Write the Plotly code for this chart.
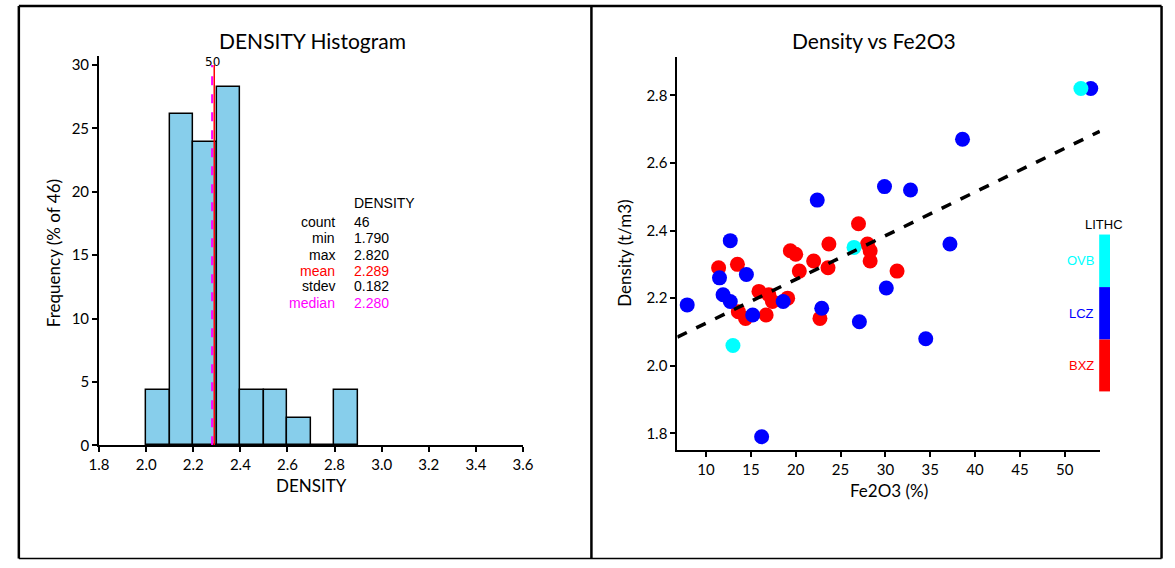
import numpy as np
import plotly.graph_objects as go

W, H = 1175, 568

# ---------------- Histogram data ----------------
bin_left = [2.0, 2.1, 2.2, 2.3, 2.4, 2.5, 2.6, 2.7, 2.8]
bin_counts = [2, 12, 11, 13, 2, 2, 1, 0, 2]
n_total = 46
mean_val = 2.289
median_val = 2.280
stat_labels = ["count", "min", "max", "mean", "stdev", "median"]
stat_values = ["46", "1.790", "2.820", "2.289", "0.182", "2.280"]
stat_colors = ["black", "black", "black", "red", "black", "magenta"]

# ---------------- Scatter data ----------------
bxz_fe = [11.4, 13.5, 13.6, 14.4, 15.9, 17.0, 17.4, 16.7, 19.1, 19.4, 20.0, 20.4,
          22.0, 23.7, 23.6, 22.7, 28.0, 28.3, 28.3, 31.3, 27.0]
bxz_den = [2.29, 2.30, 2.16, 2.14, 2.22, 2.21, 2.19, 2.15, 2.20, 2.34, 2.33, 2.28,
           2.31, 2.36, 2.29, 2.14, 2.36, 2.34, 2.31, 2.28, 2.42]
lcz_fe = [7.9, 12.7, 11.5, 14.5, 11.9, 12.7, 15.2, 18.6, 22.9, 30.1, 27.1, 34.5,
          16.2, 22.4, 29.9, 32.8, 52.9, 38.6, 37.2]
lcz_den = [2.18, 2.37, 2.26, 2.27, 2.21, 2.19, 2.15, 2.19, 2.17, 2.23, 2.13, 2.08,
           1.79, 2.49, 2.53, 2.52, 2.82, 2.67, 2.36]
ovb_fe = [13.0, 26.5, 51.8]
ovb_den = [2.06, 2.35, 2.82]

litho_names = ["OVB", "LCZ", "BXZ"]
litho_colors = ["#00FFFF", "#0000FF", "#FF0000"]

hist_x_ticks = [1.8, 2.0, 2.2, 2.4, 2.6, 2.8, 3.0, 3.2, 3.4, 3.6]
hist_y_ticks = [0, 5, 10, 15, 20, 25, 30]
sc_x_ticks = [10, 15, 20, 25, 30, 35, 40, 45, 50]
sc_y_ticks = [1.8, 2.0, 2.2, 2.4, 2.6, 2.8]


def px(x):
    return x / W


def py(y):
    return 1 - y / H


fig = go.Figure()

pct = [c / n_total * 100 for c in bin_counts]
centers = [b + 0.05 for b in bin_left]
fig.add_trace(go.Bar(x=centers, y=pct, width=0.1, marker=dict(color="#87CEEB",
                     line=dict(color="black", width=1.5)), xaxis="x", yaxis="y",
                     showlegend=False, hoverinfo="skip"))
fig.add_trace(go.Scatter(x=[median_val, median_val], y=[0, 30], mode="lines",
                         line=dict(color="magenta", width=2, dash="dash"),
                         xaxis="x", yaxis="y", showlegend=False))
fig.add_trace(go.Scatter(x=[mean_val, mean_val], y=[0, 30], mode="lines",
                         line=dict(color="red", width=1.5),
                         xaxis="x", yaxis="y", showlegend=False))

for name, fe, den, col in [("BXZ", bxz_fe, bxz_den, "#FF0000"),
                           ("LCZ", lcz_fe, lcz_den, "#0000FF"),
                           ("OVB", ovb_fe, ovb_den, "#00FFFF")]:
    fig.add_trace(go.Scatter(x=fe, y=den, mode="markers", name=name,
                             marker=dict(color=col, size=15, line=dict(width=0)),
                             xaxis="x2", yaxis="y2", showlegend=False))

all_fe = np.array(bxz_fe + lcz_fe + ovb_fe)
all_den = np.array(bxz_den + lcz_den + ovb_den)
slope, intercept = np.polyfit(all_fe, all_den, 1)
xr = np.array([6.8, 53.9])
fig.add_trace(go.Scatter(x=xr, y=intercept + slope * xr, mode="lines",
                         line=dict(color="black", width=3.5, dash="dash"),
                         xaxis="x2", yaxis="y2", showlegend=False))

axis_common = dict(showline=True, linecolor="black", linewidth=2, ticks="outside",
                   ticklen=5, tickwidth=1.5, tickcolor="black", showgrid=False,
                   zeroline=False, tickfont=dict(family="Lato", size=15, color="black"))

fig.update_layout(
    width=W, height=H, margin=dict(l=0, r=0, t=0, b=0),
    paper_bgcolor="white", plot_bgcolor="white",
    bargap=0,
    xaxis=dict(domain=[px(90.7), px(522.3)], range=[1.8, 3.6], tickvals=hist_x_ticks,
               ticktext=[f"{v:.1f}" for v in hist_x_ticks], anchor="y", **axis_common),
    yaxis=dict(domain=[py(451.5), py(56)], range=[0, 30.7], tickvals=hist_y_ticks,
               anchor="x", **axis_common),
    xaxis2=dict(domain=[px(679.5), px(1110)], range=[6.8, 53.95], tickvals=sc_x_ticks,
                anchor="y2", **axis_common),
    yaxis2=dict(domain=[py(456.5), py(57)], range=[1.75, 2.913], tickvals=sc_y_ticks,
                ticktext=[f"{v:.1f}" for v in sc_y_ticks], anchor="x2", **axis_common),
)

ann = []
tfont = dict(family="Lato", size=21, color="black")
afont = dict(family="Lato", size=17, color="black")
ann.append(dict(x=px(308), y=py(40), text="DENSITY Histogram", font=tfont))
ann.append(dict(x=px(880), y=py(40), text="Density vs Fe2O3", font=tfont))
ann.append(dict(x=px(307), y=py(492), text="DENSITY", font=afont))
ann.append(dict(x=px(895), y=py(497), text="Fe2O3 (%)", font=afont))
ann.append(dict(x=px(45), y=py(256), text="Frequency (% of 46)", font=afont, textangle=-90))
ann.append(dict(x=px(626), y=py(256), text="Density (t/m3)", font=afont, textangle=-90))
ann.append(dict(x=px(206), y=py(62), text="50", font=dict(family="DejaVu Sans", size=12, color="black")))

sfont = "Liberation Sans"
ann.append(dict(x=px(348), y=py(205), text="DENSITY", xanchor="left",
                font=dict(family=sfont, size=14, color="black")))
row_y = [224.3, 241, 257.7, 274, 290, 306.7]
for lab, val, col, yy in zip(stat_labels, stat_values, stat_colors, row_y):
    ann.append(dict(x=px(333), y=py(yy), text=lab, xanchor="right",
                    font=dict(family=sfont, size=14, color=col)))
    ann.append(dict(x=px(348), y=py(yy), text=val, xanchor="left",
                    font=dict(family=sfont, size=14, color=col)))

ann.append(dict(x=px(1093), y=py(227), text="LITHC", xanchor="left",
                font=dict(family=sfont, size=13, color="black")))
leg_y = [(237.3, 290.7), (290.7, 344), (344, 396.7)]
shapes = []
for name, col, (y0, y1) in zip(litho_names, litho_colors, leg_y):
    ann.append(dict(x=px(1106), y=py((y0 + y1) / 2), text=name, xanchor="right",
                    font=dict(family=sfont, size=13, color=col)))
    shapes.append(dict(type="rect", xref="paper", yref="paper", x0=px(1109), x1=px(1120),
                       y0=py(y1), y1=py(y0), fillcolor=col, line=dict(width=0)))

for a in ann:
    a.setdefault("xref", "paper")
    a.setdefault("yref", "paper")
    a.setdefault("showarrow", False)
    a.setdefault("xanchor", "center")
    a.setdefault("yanchor", "middle")

bl = dict(color="black", width=2.5)
for (x0, y0, x1, y1) in [(9, 5, 1172.5, 5), (9, 5, 9, 566.5), (592, 5, 592, 566.5),
                         (1172.5, 5, 1172.5, 566.5)]:
    shapes.append(dict(type="line", xref="paper", yref="paper", x0=px(x0), y0=py(y0),
                       x1=px(x1), y1=py(y1), line=bl))
shapes.append(dict(type="line", xref="paper", yref="paper", x0=px(9), y0=py(566.5),
                   x1=px(1172.5), y1=py(566.5), line=dict(color="black", width=1.5)))

fig.update_layout(annotations=ann, shapes=shapes)
fig.write_html("out.html", config={"displayModeBar": False},
               post_script="document.body.style.margin='0';"
                           "document.documentElement.style.overflow='hidden';")
